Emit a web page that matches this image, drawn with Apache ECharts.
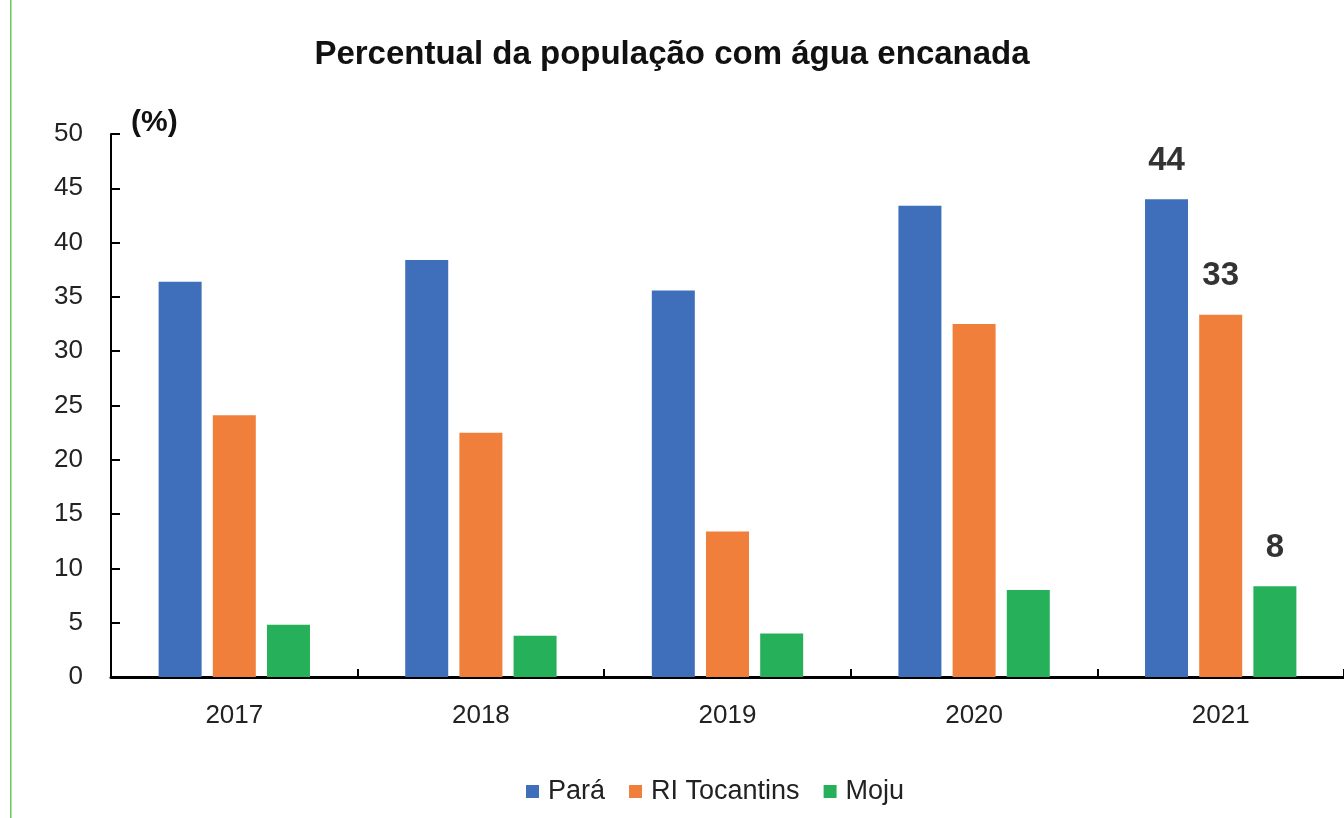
<!DOCTYPE html>
<html>
<head>
<meta charset="utf-8">
<script src="https://cdn.jsdelivr.net/npm/echarts@6/dist/echarts.min.js"></script>
<style>
html,body{margin:0;padding:0;background:#fff;}
#chart{width:1344px;height:818px;}
</style>
</head>
<body>
<div id="chart"></div>
<script>
const categories = ['2017', '2018', '2019', '2020', '2021'];
const para = [36.4, 38.4, 35.6, 43.4, 44.0];
const riTocantins = [24.1, 22.5, 13.4, 32.5, 33.35];
const moju = [4.8, 3.8, 4.0, 8.0, 8.35];
const yTicks = [0, 5, 10, 15, 20, 25, 30, 35, 40, 45, 50];

const FONT = '"Liberation Sans", Arial, sans-serif';
const lastLabel = {
  show: true,
  position: 'top',
  distance: 22,
  fontFamily: FONT,
  fontSize: 33,
  fontWeight: 'bold',
  color: '#333',
  formatter: p => p.dataIndex === categories.length - 1 ? String(Math.round(p.value)) : ''
};

const chart = echarts.init(document.getElementById('chart'));
chart.setOption({
  animation: false,
  backgroundColor: '#fff',
  title: {
    text: 'Percentual da população com água encanada',
    left: 'center',
    top: 33,
    textStyle: { fontFamily: FONT, fontSize: 33, fontWeight: 'bold', color: '#111' }
  },
  legend: {
    bottom: 8,
    left: 521,
    itemWidth: 13,
    itemHeight: 13,
    itemGap: 24,
    icon: 'rect',
    textStyle: { fontFamily: FONT, fontSize: 27, color: '#222', padding: [0, 0, 0, 4] },
    data: ['Pará', 'RI Tocantins', 'Moju']
  },
  grid: { left: 111, right: 0, top: 134, bottom: 141, containLabel: false },
  xAxis: {
    type: 'category',
    data: categories,
    axisLine: { lineStyle: { color: '#000', width: 3 } },
    axisTick: { show: true, inside: true, length: 8, lineStyle: { color: '#000', width: 2 } },
    axisLabel: { fontFamily: FONT, fontSize: 26, color: '#222', margin: 26 }
  },
  yAxis: {
    type: 'value',
    min: 0,
    max: 50,
    interval: 5,
    name: '(%)',
    nameLocation: 'end',
    nameGap: -4,
    nameTextStyle: { fontFamily: FONT, fontSize: 30, fontWeight: 'bold', color: '#111', align: 'left', padding: [0, 0, 0, 20] },
    splitLine: { show: false },
    axisLine: { show: true, lineStyle: { color: '#000', width: 2 } },
    axisTick: { show: true, inside: true, length: 9, lineStyle: { color: '#000', width: 2 } },
    axisLabel: {
      fontFamily: FONT, fontSize: 26, color: '#222', margin: 28,
      formatter: v => yTicks.includes(v) ? String(v) : ''
    }
  },
  series: [
    { name: 'Pará', type: 'bar', data: para, barWidth: 43, barGap: '26%', itemStyle: { color: '#3F6FBA' }, label: lastLabel },
    { name: 'RI Tocantins', type: 'bar', data: riTocantins, barWidth: 43, barGap: '26%', itemStyle: { color: '#EF7F3A' }, label: lastLabel },
    { name: 'Moju', type: 'bar', data: moju, barWidth: 43, barGap: '26%', itemStyle: { color: '#27B05A' }, label: lastLabel }
  ],
  graphic: [
    { type: 'rect', left: 10, top: 0, shape: { width: 1.5, height: 818 }, style: { fill: '#66CC55' }, silent: true }
  ]
});
</script>
</body>
</html>
